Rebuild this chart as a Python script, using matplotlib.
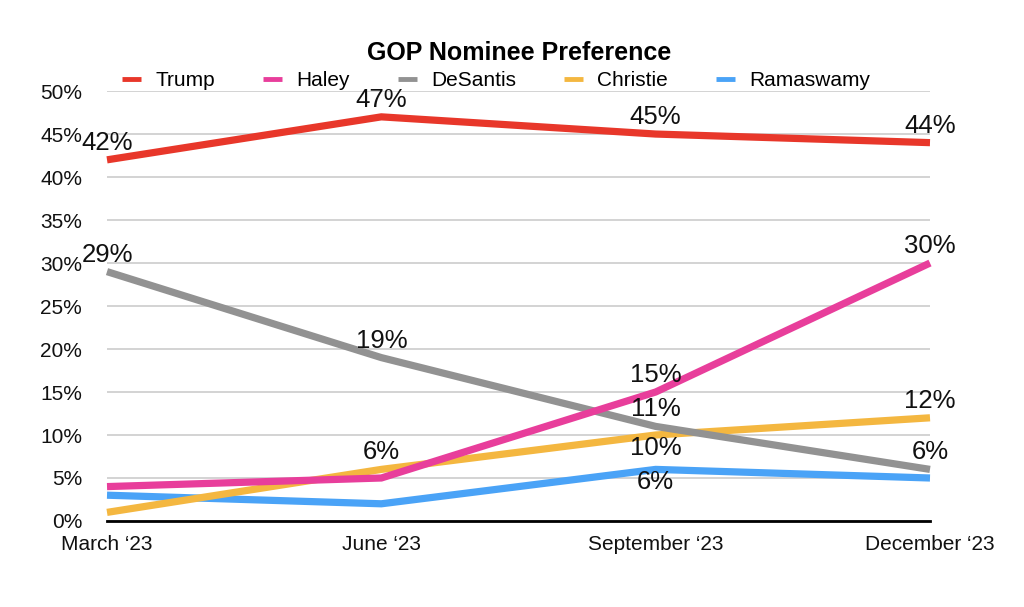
import matplotlib.pyplot as plt

plt.rcParams['font.family'] = ['Liberation Sans', 'DejaVu Sans']

# datos
months = ['March \u201823', 'June \u201823', 'September \u201823', 'December \u201823']
trump = [42, 47, 45, 44]
haley = [4, 5, 15, 30]
desantis = [29, 19, 11, 6]
christie = [1, 6, 10, 12]
ramaswamy = [3, 2, 6, 5]

names = ['Trump', 'Haley', 'DeSantis', 'Christie', 'Ramaswamy']
values = [trump, haley, desantis, christie, ramaswamy]
colors = ['#E8372A', '#E83E9B', '#929292', '#F4B740', '#4AA3F7']

# etiquetas visibles: (serie, indice, arriba/abajo)
labels = [
    (0, 0, 'up'), (0, 1, 'up'), (0, 2, 'up'), (0, 3, 'up'),
    (1, 2, 'up'), (1, 3, 'up'),
    (2, 0, 'up'), (2, 1, 'up'), (2, 2, 'up'), (2, 3, 'up'),
    (3, 1, 'up'), (3, 2, 'down'), (3, 3, 'up'),
    (4, 2, 'down'),
]

fig = plt.figure(figsize=(10.24, 6.07), dpi=100)
ax = fig.add_axes([0.1045, 0.1417, 0.8037, 0.7083])

x = list(range(len(months)))
lines = {}
for i in reversed(range(len(names))):
    ln, = ax.plot(x, values[i], color=colors[i], lw=5.2, solid_joinstyle='miter',
                  solid_capstyle='butt', label=names[i], clip_on=False, zorder=3 + (5 - i))
    lines[i] = ln

for s, k, pos in labels:
    off = 17 if pos == 'up' else -13
    ax.annotate(f'{values[s][k]}%', (x[k], values[s][k]), xytext=(0, off),
                textcoords='offset pixels', ha='center', va='center',
                fontsize=18.5, color='#111111', zorder=20, annotation_clip=False)

ax.set_xlim(0, 3)
ax.set_ylim(0, 50)
ax.set_yticks(range(0, 51, 5))
ax.set_yticklabels([f'{v}%' for v in range(0, 51, 5)])
ax.set_xticks(x)
ax.set_xticklabels(months)
ax.tick_params(axis='both', length=0, labelsize=15, colors='#111111')
ax.tick_params(axis='y', pad=18)
ax.tick_params(axis='x', pad=10)

ax.grid(axis='y', color='#c8c8c8', lw=1.1)
ax.set_axisbelow(True)
for sp in ['top', 'right', 'left']:
    ax.spines[sp].set_visible(False)
ax.spines['bottom'].set_color('black')
ax.spines['bottom'].set_linewidth(2)
ax.spines['bottom'].set_zorder(2)

handles = [lines[i] for i in range(len(names))]
leg = ax.legend(handles, names, loc='lower center', bbox_to_anchor=(0.473, 0.973),
                ncol=5, frameon=False, fontsize=15, handlelength=0.9,
                handletextpad=0.7, columnspacing=2.3, borderpad=0.1)
for h in leg.get_lines():
    h.set_linewidth(3.5)

fig.text(0.507, 0.913, 'GOP Nominee Preference', ha='center', va='center',
         fontsize=18, fontweight='bold')

fig.savefig('out.png', dpi=100)
